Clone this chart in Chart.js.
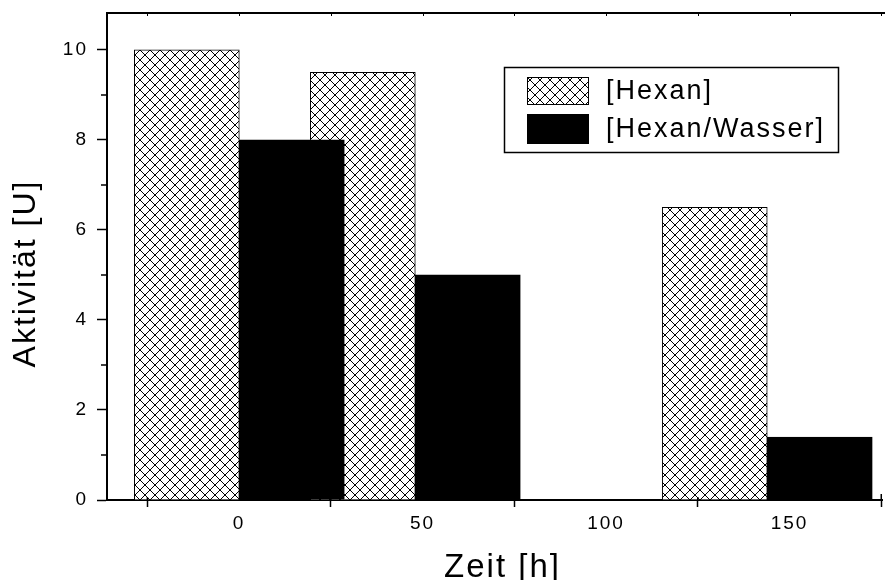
<!DOCTYPE html>
<html>
<head>
<meta charset="utf-8">
<script src="https://cdn.jsdelivr.net/npm/chart.js@4"></script>
<style>
  html, body { margin: 0; padding: 0; background: #fff; }
</style>
</head>
<body>
<canvas id="chart" width="887" height="580"></canvas>
<script>
// data
const times = [0, 50, 150];
const hexan = [10, 9.5, 6.5];
const hexanWasser = [8, 5, 1.4];
const seriesLabels = ["[Hexan]", "[Hexan/Wasser]"];
const xTicks = [-25, 0, 25, 50, 75, 100, 125, 150, 175];
const xLabels = [0, 50, 100, 150];
const yTicks = [0, 2, 4, 6, 8, 10];
const yMinor = [1, 3, 5, 7, 9];
const xTitle = "Zeit [h]";
const yTitle = "Aktivität [U]";

const FONT = "'Liberation Sans', Arial, sans-serif";
const SPACING = "2px";

const canvas = document.getElementById("chart");
const ctx = canvas.getContext("2d");

// pixel cross hatch like the origin pattern
function crossHatch() {
  const p = 10;
  const c = document.createElement("canvas");
  c.width = p;
  c.height = p;
  const g = c.getContext("2d");
  g.fillStyle = "#fff";
  g.fillRect(0, 0, p, p);
  g.fillStyle = "#000";
  for (let i = 0; i < p; i++) {
    g.fillRect(i, i, 1, 1);
    g.fillRect(i, p - 1 - i, 1, 1);
  }
  return ctx.createPattern(c, "repeat");
}
const hatch = crossHatch();

// wasser bars sit on top of the next hexan bar
const wasserOnTop = {
  id: "wasserOnTop",
  beforeDatasetDraw(chart, args) {
    if (args.index === 1 && !chart.$late) return false;
  },
  afterDatasetsDraw(chart) {
    chart.$late = true;
    chart.getDatasetMeta(1).controller.draw();
    chart.$late = false;
  }
};

const frame = {
  id: "frame",
  beforeDraw(chart) {
    chart.ctx.letterSpacing = SPACING;
  },
  afterDraw(chart) {
    const { ctx, chartArea: a, scales } = chart;
    ctx.save();
    ctx.strokeStyle = "#000";

    // top border with small inward ticks
    ctx.lineWidth = 2;
    ctx.beginPath();
    ctx.moveTo(a.left - 1, a.top);
    ctx.lineTo(a.right + 3, a.top);
    ctx.stroke();
    ctx.lineWidth = 1;
    ctx.beginPath();
    xTicks.forEach(v => {
      const x = Math.round(scales.xt.getPixelForValue(v)) + 0.5;
      ctx.moveTo(x, a.top);
      ctx.lineTo(x, a.top + 3);
    });
    ctx.stroke();

    // bottom ticks poke a bit above the axis
    ctx.lineWidth = 1.5;
    ctx.beginPath();
    xTicks.forEach(v => {
      if (xLabels.includes(v)) return;
      const x = scales.xt.getPixelForValue(v);
      ctx.moveTo(x, a.bottom);
      ctx.lineTo(x, a.bottom - (v === 175 ? 6 : 3));
    });
    // minor y ticks
    yMinor.forEach(v => {
      const y = scales.y.getPixelForValue(v);
      ctx.moveTo(a.left, y);
      ctx.lineTo(a.left - 6, y);
    });
    ctx.stroke();

    // axis titles
    ctx.fillStyle = "#000";
    ctx.letterSpacing = SPACING;
    ctx.textAlign = "center";
    ctx.textBaseline = "alphabetic";
    ctx.font = "33px " + FONT;
    ctx.fillText(xTitle, (a.left + a.right) / 2 + 8, 577);
    ctx.save();
    ctx.translate(35, (a.top + a.bottom) / 2 + 17);
    ctx.rotate(-Math.PI / 2);
    ctx.font = "32px " + FONT;
    ctx.fillText(yTitle, 0, 0);
    ctx.restore();

    // legend box
    const sets = chart.data.datasets;
    ctx.lineWidth = 1.5;
    ctx.strokeRect(504.5, 67.5, 334, 85);
    const rows = [{ y: 77, h: 28 }, { y: 114, h: 30 }];
    ctx.font = "27px " + FONT;
    ctx.textAlign = "left";
    ctx.textBaseline = "middle";
    sets.forEach((ds, i) => {
      const r = rows[i];
      ctx.fillStyle = ds.backgroundColor;
      ctx.fillRect(527, r.y, 62, r.h);
      ctx.lineWidth = 1;
      ctx.strokeRect(527.5, r.y + 0.5, 61, r.h - 1);
      ctx.fillStyle = "#000";
      ctx.fillText(ds.label, 606, r.y + r.h / 2 + 1);
    });
    ctx.restore();
  }
};

new Chart(ctx, {
  type: "bar",
  data: {
    datasets: [
      {
        label: seriesLabels[0],
        data: times.map((t, i) => ({ x: t, y: hexan[i] })),
        backgroundColor: hatch,
        borderColor: "#000",
        borderWidth: 1
      },
      {
        label: seriesLabels[1],
        data: times.map((t, i) => ({ x: t, y: hexanWasser[i] })),
        backgroundColor: "#000",
        borderColor: "#000",
        borderWidth: 1
      }
    ]
  },
  options: {
    responsive: false,
    animation: false,
    barThickness: 105,
    layout: { padding: { top: 13, right: 5, left: 0, bottom: 0 } },
    plugins: {
      legend: { display: false },
      tooltip: { enabled: false }
    },
    scales: {
      x: {
        type: "linear",
        display: false,
        offset: false,
        min: -37.6,
        max: 182.6
      },
      xt: {
        type: "linear",
        position: "bottom",
        offset: false,
        min: -36,
        max: 175.2,
        afterBuildTicks: s => { s.ticks = xTicks.map(v => ({ value: v })); },
        afterFit: s => { s.height = 80; s.paddingLeft = 0; s.paddingRight = 0; },
        border: { color: "#000", width: 2 },
        grid: {
          offset: false,
          drawOnChartArea: false,
          tickLength: 7,
          tickWidth: 1.5,
          tickColor: c => xLabels.includes(c.tick && c.tick.value) ? "rgba(0,0,0,0)" : "#000"
        },
        ticks: {
          autoSkip: false,
          maxRotation: 0,
          padding: 5,
          color: "#000",
          font: { family: FONT, size: 19 },
          callback: v => xLabels.includes(v) ? String(v) : ""
        }
      },
      y: {
        type: "linear",
        position: "left",
        min: 0,
        max: 10.82,
        afterBuildTicks: s => { s.ticks = yTicks.map(v => ({ value: v })); },
        afterFit: s => { s.width = 107; s.paddingTop = 0; s.paddingBottom = 0; },
        border: { color: "#000", width: 2 },
        grid: {
          drawOnChartArea: false,
          tickLength: 10,
          tickWidth: 1.5,
          tickColor: "#000"
        },
        ticks: {
          padding: 9,
          color: "#000",
          font: { family: FONT, size: 19 }
        }
      }
    }
  },
  plugins: [wasserOnTop, frame]
});
</script>
</body>
</html>
